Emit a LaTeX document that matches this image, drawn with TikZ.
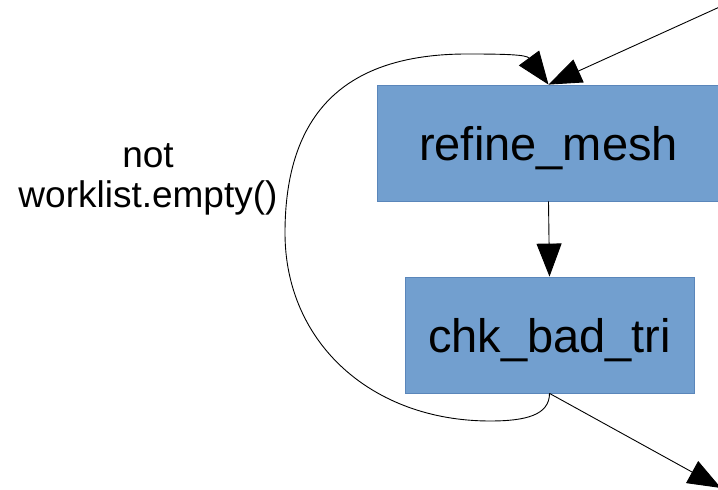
\documentclass[tikz,border=0pt]{standalone}
\usepackage{fontspec}
\setmainfont{Liberation Sans}
\usetikzlibrary{arrows.meta}
\definecolor{boxfill}{HTML}{729FCF}
\definecolor{boxline}{HTML}{5A86BA}
\begin{document}
\begin{tikzpicture}[x=1pt,y=1pt,
  stepbox/.style={draw=boxline,fill=boxfill,line width=0.8pt,inner sep=0pt,
    minimum height=116pt,text height=35pt,text depth=0pt,
    font=\fontsize{47}{52}\selectfont},
  flow/.style={line width=0.9pt,-{Triangle[length=33pt,width=25pt]}}]
\useasboundingbox (0,0) rectangle (718,490);
\clip (0,0) rectangle (718,490);
% the two processing steps
\node[stepbox,minimum width=343pt] (refine) at (548.5,347) {refine\_mesh};
\node[stepbox,minimum width=289pt] (check) at (549.5,155) {chk\_bad\_tri};
% loop condition
\node[align=center,font=\fontsize{37}{40}\selectfont,inner sep=0pt] (cond) at (148,311) {not\\worklist.empty()};
% connectors
\coordinate (src) at (735,490);
\coordinate (sink) at (721,2);
\coordinate (loopbot) at (490,69);
\coordinate (loopleft) at (285,257);
\coordinate (looptop) at (467,436);
\draw[flow] (src) -- (refine.north);
\draw[flow] (refine.south) -- (check.north);
\draw[flow] (check.south) -- (sink);
\draw[flow] (check.south) .. controls +(0,-22) and +(35,0) .. (loopbot)
  .. controls +(-118,0) and +(0,-110) .. (loopleft)
  .. controls +(0,120) and +(-122,0) .. (looptop)
  .. controls +(38,0) and +(-22,30) .. (refine.north);
\end{tikzpicture}
\end{document}
